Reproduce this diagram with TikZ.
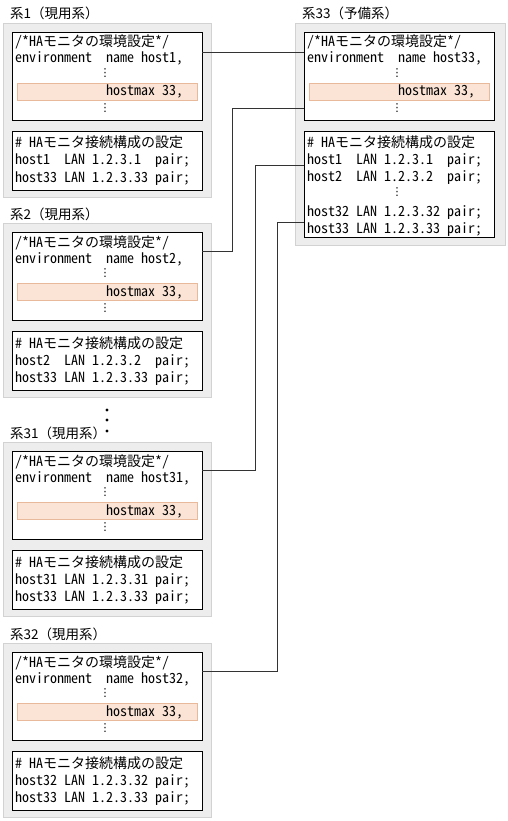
\documentclass[tikz,border=0pt]{standalone}
\usepackage{fontspec}
\setmainfont[RawFeature=+hwid]{Noto Sans CJK JP}
\newfontfamily\jpfw{Noto Sans CJK JP}
\newfontfamily\dvfont{DejaVu Sans}
\newcommand\hsp{\hspace*{0.5em}}
\definecolor{grayfill}{HTML}{EDEDED}
\definecolor{graybd}{HTML}{D2D2D2}
\definecolor{bandfill}{HTML}{FBE4D5}
\definecolor{bandbd}{HTML}{E8B99B}
\definecolor{connc}{HTML}{333333}
\begin{document}
\begin{tikzpicture}[x=1pt,y=-1pt,
  graybox/.style={draw=graybd, fill=grayfill, line width=0.8pt, inner sep=0pt, outer sep=0pt},
  codebox/.style={draw=black, fill=white, line width=0.9pt, inner sep=0pt, outer sep=0pt},
  band/.style={draw=bandbd, fill=bandfill, line width=0.6pt, inner sep=0pt, outer sep=0pt},
  txt/.style={anchor=base west, inner sep=0pt, font=\fontsize{14}{14}\selectfont},
  ttl/.style={anchor=base west, inner sep=0pt, font=\jpfw\fontsize{13.5}{14}\selectfont},
  vd/.style={inner sep=0pt, font=\dvfont\fontsize{11}{11}\selectfont},
  conn/.style={draw=connc, line width=0.9pt}]
\useasboundingbox (0,0) rectangle (507,821);
\foreach \n/\o/\hl in {1/0/{host1\hsp\hsp LAN\hsp 1.2.3.1\hsp\hsp pair;},
                      2/200/{host2\hsp\hsp LAN\hsp 1.2.3.2\hsp\hsp pair;},
                      31/419/{host31\hsp LAN\hsp 1.2.3.31\hsp pair;},
                      32/620/{host32\hsp LAN\hsp 1.2.3.32\hsp pair;}}{
  \node[ttl] (t\n) at (10,19+\o) {系\n（現用系）};
  \node[graybox, minimum width=208pt, minimum height=174pt] (g\n) at (107,110+\o) {};
  \node[codebox, minimum width=190pt, minimum height=88pt] (e\n) at (107,76+\o) {};
  \node[band, minimum width=180pt, minimum height=17pt] (b\n) at (107,91.5+\o) {};
  \node[txt] (e\n-a) at (15,47+\o) {/*HAモニタの環境設定*/};
  \node[txt] (e\n-b) at (15,63+\o) {environment\hsp\hsp name\hsp host\n,};
  \node[vd] (e\n-c) at (105,73+\o) {⋮};
  \node[txt] (e\n-d) at (106,96+\o) {hostmax\hsp 33,};
  \node[vd] (e\n-e) at (105,108+\o) {⋮};
  \node[codebox, minimum width=190pt, minimum height=59pt] (c\n) at (107,160.5+\o) {};
  \node[txt] (c\n-a) at (15,148+\o) {\#\hsp HAモニタ接続構成の設定};
  \node[txt] (c\n-b) at (15,165+\o) {\hl};
  \node[txt] (c\n-c) at (15,182.5+\o) {host33\hsp LAN\hsp 1.2.3.33\hsp pair;};
}
% standby system 33
\node[ttl] (t33) at (302,19) {系33（予備系）};
\node[graybox, minimum width=210pt, minimum height=222pt] (g33) at (400,134) {};
\node[codebox, minimum width=190pt, minimum height=88pt] (e33) at (399,76) {};
\node[band, minimum width=180pt, minimum height=17pt] (b33) at (399,91.5) {};
\node[txt] (e33-a) at (307,47) {/*HAモニタの環境設定*/};
\node[txt] (e33-b) at (307,63) {environment\hsp\hsp name\hsp host33,};
\node[vd] (e33-c) at (397,73) {⋮};
\node[txt] (e33-d) at (398,96) {hostmax\hsp 33,};
\node[vd] (e33-e) at (397,108) {⋮};
\node[codebox, minimum width=190pt, minimum height=106pt] (c33) at (399,184) {};
\node[txt] (c33-a) at (307,148) {\#\hsp HAモニタ接続構成の設定};
\node[txt] (c33-b) at (307,165) {host1\hsp\hsp LAN\hsp 1.2.3.1\hsp\hsp pair;};
\node[txt] (c33-c) at (307,182) {host2\hsp\hsp LAN\hsp 1.2.3.2\hsp\hsp pair;};
\node[vd] (c33-d) at (397,192) {⋮};
\node[txt] (c33-e) at (307,216) {host32\hsp LAN\hsp 1.2.3.32\hsp pair;};
\node[txt] (c33-f) at (307,233) {host33\hsp LAN\hsp 1.2.3.33\hsp pair;};
% continuation dots
\fill (107,410) circle (1.6pt) (107,420) circle (1.6pt) (107,431) circle (1.6pt);
% connectors
\coordinate (p2) at ([yshift=-76pt]e33.north west);
\coordinate (p31) at ([yshift=-34pt]c33.north west);
\coordinate (p32) at ([yshift=-91pt]c33.north west);
\draw[conn] ([yshift=-20pt]e1.north east) -- ([yshift=-20pt]e33.north west);
\draw[conn] ([yshift=-19pt]e2.north east) -- ++(30,0) |- (p2);
\draw[conn] ([yshift=-19pt]e31.north east) -- ++(53,0) |- (p31);
\draw[conn] ([yshift=-19pt]e32.north east) -- ++(75,0) |- (p32);
\end{tikzpicture}
\end{document}
